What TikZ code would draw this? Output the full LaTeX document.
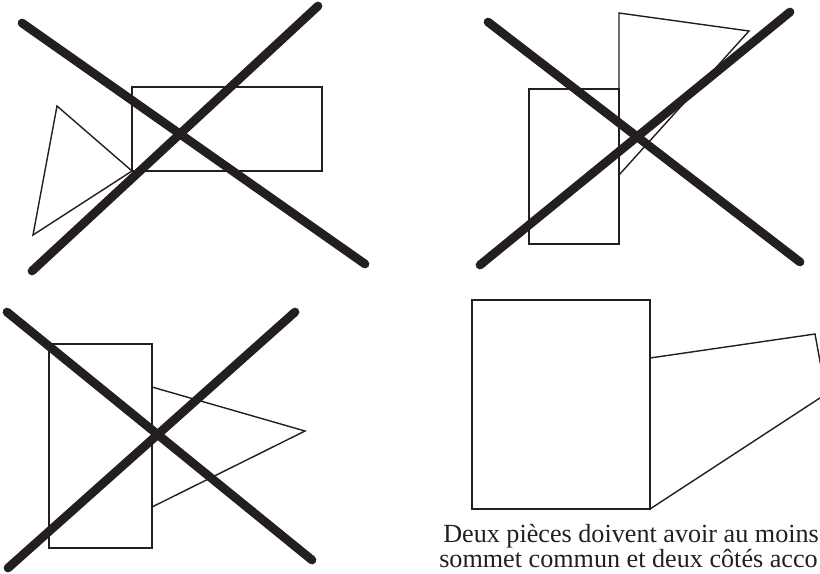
\documentclass[tikz,border=0pt]{standalone}
\usepackage{fontspec}
\setmainfont{Liberation Serif}
\definecolor{ink}{HTML}{231F20}
\begin{document}
\begin{tikzpicture}[
    x=0.025cm, y=-0.025cm,
    cross/.style={ink, line width=6.2pt, line cap=round},
    piece/.style={ink, line width=1pt, line join=miter},
    caption/.style={ink, anchor=base west, inner sep=0pt, font=\fontsize{18.6}{24}\selectfont}
]
    \useasboundingbox (0,0) rectangle (820,573);

    % Top left: the pieces touch at one corner only
    \draw[piece] (132,87) rectangle (322,171);
    \draw[piece] (57,106) -- (33,235) -- (132,171) -- cycle;
    \draw[cross] (22,23) -- (365,264);
    \draw[cross] (32,271) -- (318,6);

    % Top right: one vertex lies on a side
    \draw[piece] (529,89) rectangle (619,244);
    \draw[piece] (619,13) -- (749,31) -- (619,175) -- cycle;
    \draw[cross] (488,22) -- (800,262);
    \draw[cross] (480,265) -- (790,12);

    % Bottom left: no common vertex at all
    \draw[piece] (49,344) rectangle (152,548);
    \draw[piece] (152,387) -- (305,431) -- (152,507);
    \draw[cross] (7,312) -- (312,560);
    \draw[cross] (8,568) -- (295,312);

    % Bottom right: the allowed case
    \draw[piece] (472,300) rectangle (650,509);
    \draw[piece] (650,358) -- (815,334) -- (826,394) -- (650,509);

    % Caption
    \node[caption] (line1) at (443,542) {Deux pièces doivent avoir au moins};
    \node[caption] (line2) at (439,567) {sommet commun et deux côtés acco};
\end{tikzpicture}
\end{document}
